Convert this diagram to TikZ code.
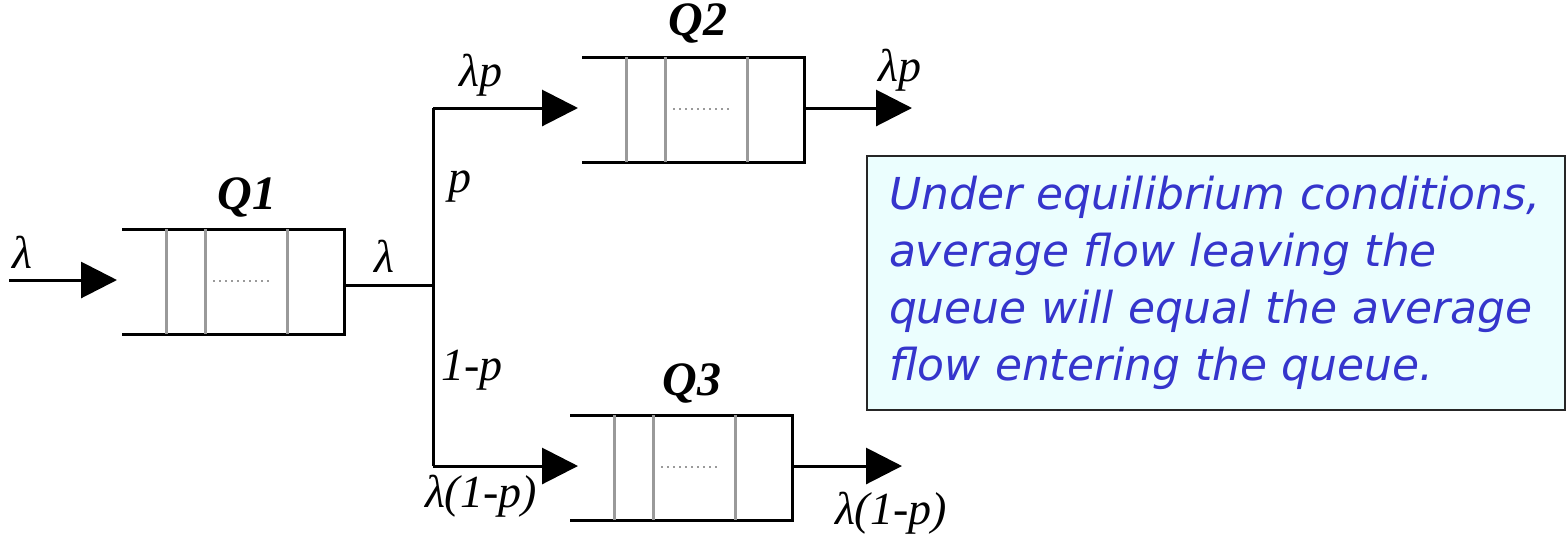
\documentclass[tikz,border=0pt]{standalone}
\usepackage{fontspec}
\setmainfont{Liberation Serif}
\newfontfamily\notefont{DejaVu Sans}
\usetikzlibrary{arrows.meta}
\definecolor{notebg}{HTML}{EBFEFE}
\definecolor{noteblue}{HTML}{3535CC}
\definecolor{slotgray}{HTML}{9A9A9A}

\tikzset{
  queue/.pic={
    % open-ended buffer with three slots and a closed server end
    \draw[line width=1.5pt] (0,0) -- (222,0) -- (222,105) -- (0,105);
    \foreach \s in {44,83,165}
      \draw[slotgray, line width=1.5pt] (\s,0) -- (\s,105);
    \draw[slotgray, line width=1.1pt, dash pattern=on 0.8pt off 2.2pt] (91,52) -- (148,52);
    \coordinate (-in) at (0,51);
    \coordinate (-out) at (222,51);
  },
  flow/.style={line width=1.5pt, -{Triangle[length=18pt,width=18pt]}},
  wire/.style={line width=1.5pt},
  lbl/.style={font=\fontsize{23}{23}\selectfont\itshape, inner sep=0pt},
  qname/.style={font=\fontsize{24}{24}\selectfont\bfseries\itshape, inner sep=0pt},
  note/.style={draw=black!85, line width=1pt, fill=notebg, text=noteblue,
    font=\notefont\fontsize{22}{28.5}\selectfont\itshape, align=left,
    inner xsep=11pt, anchor=north west,
    minimum width=349pt, minimum height=127pt, text width=327pt}
}

\begin{document}
\begin{tikzpicture}[x=0.5pt, y=-0.5pt]
\useasboundingbox (0,0) rectangle (1566,537);

% Queues
\pic (Q1) at (122,229) {queue};
\pic (Q2) at (582,57) {queue};
\pic (Q3) at (570,415) {queue};
\node[qname] (q1name) at (247,197) {Q1};
\node[qname] (q2name) at (698,23) {Q2};
\node[qname] (q3name) at (692,383) {Q3};

% Branching point
\coordinate (src) at (9,280);
\coordinate (split) at (433,285);
\coordinate (up) at (433,108);
\coordinate (down) at (433,466);
\coordinate (sink2) at (912,108);
\coordinate (sink3) at (902,466);

% Flows
\draw[flow, shorten >=2.5pt] (src) -- (src -| Q1-in);
\draw[wire] (Q1-out |- split) -- (split);
\draw[wire] (up) -- (down);
\draw[flow, shorten >=2pt] (up) -- (up -| Q2-in);
\draw[flow] (down) -- ([xshift=4pt]down -| Q3-in);
\draw[flow] (Q2-out |- sink2) -- (sink2);
\draw[flow] (Q3-out |- sink3) -- (sink3);

% Rates and probabilities
\node[lbl] (lamin) at (22,252) {λ};
\node[lbl] (lamq1) at (384,256) {λ};
\node[lbl] (lamp) at (481,75) {λp};
\node[lbl] (prob) at (460,187) {p};
\node[lbl] (notp) at (472,370) {1-p};
\node[lbl] (lamnotp) at (481,496) {λ(1-p)};
\node[lbl] (lampout) at (900,70) {λp};
\node[lbl] (lamnotpout) at (891,513) {λ(1-p)};

% Remark
\node[note] (remark) at (866,155) {Under equilibrium conditions,\\
average flow leaving the\\
queue will equal the average\\
flow entering the queue.};
\end{tikzpicture}
\end{document}
